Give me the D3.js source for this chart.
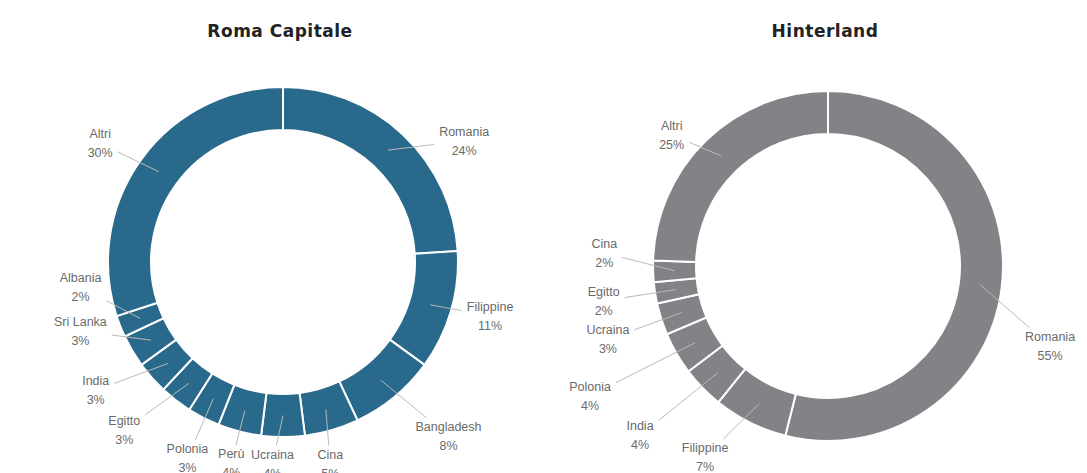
<!DOCTYPE html>
<html>
<head>
<meta charset="utf-8">
<script src="https://cdn.jsdelivr.net/npm/d3@7"></script>
<style>
  html, body { margin: 0; padding: 0; background: #fff; }
  svg { display: block; }
</style>
</head>
<body>
<svg id="chart" width="1087" height="473"></svg>
<script>
// Foreign residents by country of origin, share of total (%)
const romaCategories = ["Romania", "Filippine", "Bangladesh", "Cina", "Ucraina", "Perù", "Polonia", "Egitto", "India", "Sri Lanka", "Albania", "Altri"];
const romaValues = [24, 11, 8, 5, 4, 4, 3, 3, 3, 3, 2, 30];

const hinterlandCategories = ["Romania", "Filippine", "India", "Polonia", "Ucraina", "Egitto", "Cina", "Altri"];
const hinterlandValues = [55, 7, 4, 4, 3, 2, 2, 25];

// Label placement: each label sits on a circle of radius labelR around the slice's
// mid-angle; labelNudge gives [extra rotation in degrees, extra radius in px]
// for labels that are moved to clear their neighbours.
const romaNudge = {
  "Romania": [13, 6], "Filippine": [-1.6, 2], "Bangladesh": [-4, 28], "Cina": [3, -5],
  "Ucraina": [3, -10], "Perù": [0, -4], "Polonia": [-1, 6], "Egitto": [5.6, 19],
  "India": [7, 15], "Sri Lanka": [11.8, 2], "Albania": [14.6, -8], "Altri": [-3, 6]
};
const hinterlandNudge = {
  "Romania": [12.7, 8], "Filippine": [6.3, -1], "India": [2.1, 25], "Polonia": [1.4, 43],
  "Ucraina": [-0.8, 4], "Egitto": [0, -1], "Cina": [5.1, -4], "Altri": [-5.9, -24]
};

const panels = [
  { title: "Roma Capitale", names: romaCategories, values: romaValues, cx: 283, cy: 262, color: "#29698b", labelR: 212, nudge: romaNudge },
  { title: "Hinterland", names: hinterlandCategories, values: hinterlandValues, cx: 828, cy: 266, color: "#838387", labelR: 228, nudge: hinterlandNudge }
];

const outerR = 175, innerR = 132;
const svg = d3.select("#chart");
const toRad = Math.PI / 180;
const labelFont = "Liberation Sans, Arial, sans-serif";

panels.forEach(p => {
  const rows = p.names.map((n, i) => ({ name: n, value: p.values[i] }));
  const pie = d3.pie().sort(null).value(d => d.value);
  const arc = d3.arc().innerRadius(innerR).outerRadius(outerR);
  const arcs = pie(rows);

  const g = svg.append("g").attr("transform", `translate(${p.cx},${p.cy})`);

  svg.append("text")
    .attr("x", p.cx - 3).attr("y", 37)
    .attr("text-anchor", "middle")
    .attr("font-family", "DejaVu Sans, sans-serif")
    .attr("font-weight", "bold")
    .attr("font-size", 17)
    .attr("letter-spacing", 0.5)
    .attr("fill", "#222")
    .text(p.title);

  g.selectAll("path.slice")
    .data(arcs)
    .join("path")
    .attr("class", "slice")
    .attr("d", arc)
    .attr("fill", p.color)
    .attr("stroke", "#fff")
    .attr("stroke-width", 2);

  // label blocks: name + percentage
  const labels = g.selectAll("g.lbl")
    .data(arcs)
    .join("g")
    .attr("class", "lbl");

  labels.append("text")
    .attr("class", "nm")
    .attr("text-anchor", "middle")
    .attr("font-family", labelFont)
    .attr("font-size", 12.5)
    .attr("fill", "#6a6a6a")
    .text(d => d.data.name);
  labels.append("text")
    .attr("class", "pc")
    .attr("text-anchor", "middle")
    .attr("font-family", labelFont)
    .attr("font-size", 12.5)
    .attr("fill", "#6a6a6a")
    .text(d => d.data.value + "%");

  const items = arcs.map((d, i) => {
    const node = labels.nodes()[i];
    const w = Math.max(node.querySelector(".nm").getComputedTextLength(), node.querySelector(".pc").getComputedTextLength());
    const mid = (d.startAngle + d.endAngle) / 2;
    const [turn, push] = p.nudge[d.data.name] || [0, 0];
    return { d, node, w, h: 30, mid, theta: mid + turn * toRad, r: p.labelR + push };
  });

  const pos = it => ({ x: it.r * Math.sin(it.theta), y: -it.r * Math.cos(it.theta) });

  // final safety pass: separate any neighbouring labels that still touch
  for (let iter = 0; iter < 300; iter++) {
    let moved = false;
    for (let i = 0; i < items.length - 1; i++) {
      const a = items[i], b = items[i + 1];
      const pa = pos(a), pb = pos(b);
      const ox = (a.w + b.w) / 2 + 2 - Math.abs(pa.x - pb.x);
      const oy = (a.h + b.h) / 2 + 2 - Math.abs(pa.y - pb.y);
      if (ox > 0 && oy > 0) {
        a.theta -= 0.1 * toRad;
        b.theta += 0.1 * toRad;
        moved = true;
      }
    }
    if (!moved) break;
  }

  items.forEach(it => {
    const L = pos(it);
    d3.select(it.node).select(".nm").attr("x", L.x).attr("y", L.y - 5);
    d3.select(it.node).select(".pc").attr("x", L.x).attr("y", L.y + 14);

    // leader from the middle of the ring to the edge of the label block
    const rm = (innerR + outerR) / 2;
    const P1 = { x: rm * Math.sin(it.mid), y: -rm * Math.cos(it.mid) };
    const dx = P1.x - L.x, dy = P1.y - L.y;
    const hw = it.w / 2 + 5, hh = it.h / 2 + 3;
    const s = Math.min(dx !== 0 ? hw / Math.abs(dx) : Infinity, dy !== 0 ? hh / Math.abs(dy) : Infinity);
    const P2 = { x: L.x + dx * s, y: L.y + dy * s };
    g.insert("line", "g.lbl")
      .attr("x1", P1.x).attr("y1", P1.y)
      .attr("x2", P2.x).attr("y2", P2.y)
      .attr("stroke", "#b9b9b9")
      .attr("stroke-width", 1);
  });
});
</script>
</body>
</html>
